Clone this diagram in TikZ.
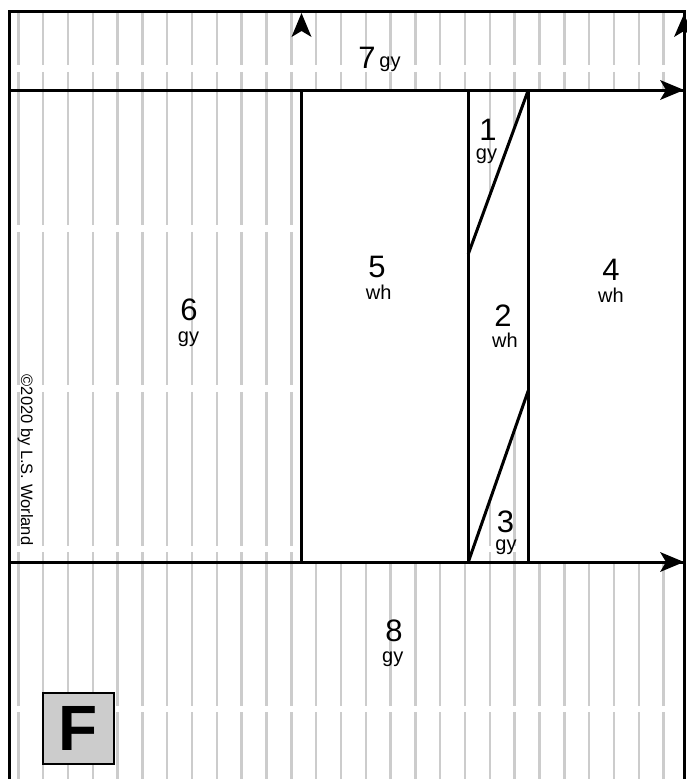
\documentclass[tikz,border=0pt]{standalone}
\usepackage{fontspec}
\setmainfont{Liberation Sans}
\definecolor{stripegrey}{RGB}{204,204,204}
\definecolor{boxgrey}{RGB}{204,204,204}
\begin{document}
\begin{tikzpicture}[x=1pt,y=-1pt,
  fold/.style={line width=3pt},
  stripe/.style={draw=stripegrey, line width=2.5pt, dash pattern=on 153.6pt off 6.5pt},
  num/.style={font=\fontsize{31}{31}\selectfont, anchor=base, inner sep=0pt, text height=22pt, text depth=0pt},
  lab/.style={font=\fontsize{20}{20}\selectfont, anchor=base, inner sep=0pt, text height=10.5pt, text depth=4pt},
  tipshape/.style={fill=black}]
\useasboundingbox (0,0) rectangle (687,779);
\clip (0,0) rectangle (687,779);
% key points
\coordinate (BL) at (9.5,779);
\coordinate (TL) at (9.5,11);
\coordinate (TR) at (684,11);
\coordinate (BR) at (684,779);
\coordinate (AL) at (9.5,90);
\coordinate (AR) at (684,90);
\coordinate (CL) at (9.5,562);
\coordinate (CR) at (684,562);
\coordinate (V1t) at (301,90);
\coordinate (V1b) at (301,562);
\coordinate (V2t) at (468.3,90);
\coordinate (V2b) at (468.3,562);
\coordinate (V3t) at (528.3,90);
\coordinate (V3b) at (528.3,562);
\coordinate (D1) at (468.3,254);
\coordinate (D3) at (528.3,390.5);
% stripes (grey panels)
\begin{scope}
\clip (10,11) rectangle (684,90)
      (10,90) rectangle (301,562)
      (468.3,90) -- (528.3,90) -- (468.3,254) -- cycle
      (468.3,562) -- (528.3,562) -- (528.3,390.5) -- cycle
      (10,562) rectangle (684,779);
\foreach \i in {0,...,26}
  \draw[stripe] ({18.3+24.82*\i},-88.35) -- ({18.3+24.82*\i},790);
\end{scope}
% outline and folds
\draw[fold, line join=miter] (BL) -- (TL) -- (TR) -- (BR);
\draw[fold] (AL) -- (AR);
\draw[fold] (CL) -- (CR);
\draw[fold] (V1t) -- (V1b);
\draw[fold] (V2t) -- (V2b);
\draw[fold] (V3t) -- (V3b);
\draw[fold] (V3t) -- (D1);
\draw[fold] (V2b) -- (D3);
% arrow heads
\fill[tipshape] (301.5,13) -- (291.5,37) -- (301.5,31) -- (311.5,37) -- cycle;
\fill[tipshape] (684,14) -- (674,37) -- (684,31) -- (694,37) -- cycle;
\fill[tipshape] (AR) -- (660,80) -- (666,90) -- (660,100) -- cycle;
\fill[tipshape] (CR) -- (660,552) -- (666,562) -- (660,572) -- cycle;
% labels
\node[num] (n7) at (367,68.5) {7};
\node[lab] (g7) at (390,67.5) {gy};
\node[num] (n1) at (488,140) {1};
\node[lab] (g1) at (486.5,159) {gy};
\node[num] (n5) at (377,277) {5};
\node[lab] (w5) at (378.7,299) {wh};
\node[num] (n6) at (189,320) {6};
\node[lab] (g6) at (188.5,342.5) {gy};
\node[num] (n4) at (611,280) {4};
\node[lab] (w4) at (611,302) {wh};
\node[num] (n2) at (503,326) {2};
\node[lab] (w2) at (505,347) {wh};
\node[num] (n3) at (505.6,532) {3};
\node[lab] (g3) at (506,550.5) {gy};
\node[num] (n8) at (394,641.7) {8};
\node[lab] (g8) at (392.7,662.5) {gy};
\node[rotate=-90, font=\fontsize{16.5}{16.5}\selectfont, inner sep=0pt] (copy) at (25.5,460) {©2020 by L.S. Worland};
\node[draw, line width=2.5pt, fill=boxgrey, minimum size=71pt, inner sep=0pt,
      font=\fontsize{64}{64}\selectfont\bfseries] (F) at (78.5,728.5) {F};
\end{tikzpicture}
\end{document}
